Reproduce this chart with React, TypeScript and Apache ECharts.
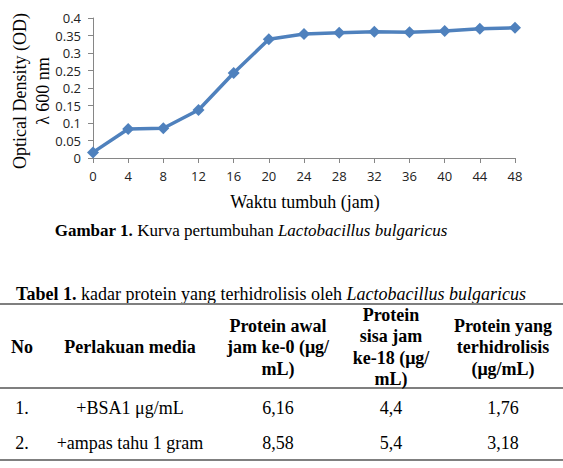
import React, { useEffect, useRef } from "react";
import * as echarts from "echarts";

const hours = [0, 4, 8, 12, 16, 20, 24, 28, 32, 36, 40, 44, 48];
const odValues = [0.016, 0.083, 0.085, 0.137, 0.243, 0.339, 0.354, 0.358, 0.361, 0.359, 0.363, 0.369, 0.372];

const xAxisTitle = "Waktu tumbuh (jam)";
const yAxisTitle = "Optical Density (OD)\nλ 600 nm";

const tableHeaders = [
  "No",
  "Perlakuan media",
  "Protein awal\njam ke-0 (μg/\nmL)",
  "Protein\nsisa jam\nke-18 (μg/\nmL)",
  "Protein yang\nterhidrolisis\n(μg/mL)",
];
const rowNo = ["1.", "2."];
const rowMedia = ["+BSA1 μg/mL", "+ampas tahu 1 gram"];
const proteinAwal = ["6,16", "8,58"];
const proteinSisa = ["4,4", "5,4"];
const proteinHidrolisis = ["1,76", "3,18"];

const SERIF = "'Liberation Serif', 'Times New Roman', serif";

export default function App() {
  const ref = useRef<HTMLDivElement>(null);
  useEffect(() => {
    if (!ref.current) return;
    const chart = echarts.init(ref.current, null, { renderer: "svg" });

    const colX = [22, 130, 278, 391, 503];
    const rowY = [408, 443];
    const cols = [rowNo, rowMedia, proteinAwal, proteinSisa, proteinHidrolisis];

    const graphics: any[] = [];
    // y axis title
    graphics.push({
      type: "text",
      x: 31,
      y: 91,
      rotation: Math.PI / 2,
      style: {
        text: yAxisTitle,
        font: `18px ${SERIF}`,
        fill: "#000",
        align: "center",
        verticalAlign: "middle",
        lineHeight: 23,
      },
    });
    // x axis title
    graphics.push({
      type: "text",
      x: 305,
      y: 202,
      style: {
        text: xAxisTitle,
        font: `18px ${SERIF}`,
        fill: "#000",
        align: "center",
        verticalAlign: "middle",
      },
    });
    // caption
    graphics.push({
      type: "text",
      x: 251,
      y: 230,
      style: {
        text: "{b|Gambar 1.} Kurva pertumbuhan {i|Lactobacillus bulgaricus}",
        font: `17px ${SERIF}`,
        fill: "#000",
        align: "center",
        verticalAlign: "middle",
        rich: {
          b: { fontWeight: "bold", fontSize: 17, fontFamily: SERIF },
          i: { fontStyle: "italic", fontSize: 17, fontFamily: SERIF },
        },
      },
    });
    // table caption
    graphics.push({
      type: "text",
      x: 271,
      y: 294,
      style: {
        text: "{b|Tabel 1.} kadar protein yang terhidrolisis oleh {i|Lactobacillus bulgaricus}",
        font: `18px ${SERIF}`,
        fill: "#000",
        align: "center",
        verticalAlign: "middle",
        rich: {
          b: { fontWeight: "bold", fontSize: 18, fontFamily: SERIF },
          i: { fontStyle: "italic", fontSize: 18, fontFamily: SERIF },
        },
      },
    });
    // table lines
    [304, 388, 460].forEach((y) => {
      graphics.push({
        type: "line",
        shape: { x1: 0, y1: y, x2: 563, y2: y },
        style: { stroke: "#7f7f7f", lineWidth: 2 },
      });
    });
    // headers
    tableHeaders.forEach((h, i) => {
      graphics.push({
        type: "text",
        x: colX[i],
        y: 347,
        style: {
          text: h,
          font: `bold 18px ${SERIF}`,
          fill: "#000",
          align: "center",
          verticalAlign: "middle",
          lineHeight: 21.5,
        },
      });
    });
    // rows
    cols.forEach((col, ci) => {
      col.forEach((v, ri) => {
        graphics.push({
          type: "text",
          x: colX[ci],
          y: rowY[ri],
          style: {
            text: v,
            font: `18px ${SERIF}`,
            fill: "#000",
            align: "center",
            verticalAlign: "middle",
          },
        });
      });
    });

    const axisLine = { show: true, lineStyle: { color: "#868686", width: 1 } };
    chart.setOption({
      animation: false,
      backgroundColor: "#fff",
      grid: { left: 93, right: 48, top: 18, bottom: 310, containLabel: false },
      xAxis: {
        type: "value",
        min: 0,
        max: 48,
        interval: 4,
        axisLine,
        axisTick: { show: true, length: 5, lineStyle: { color: "#868686" } },
        splitLine: { show: false },
        axisLabel: {
          margin: 11,
          fontFamily: "'Open Sans', sans-serif",
          fontSize: 13,
          color: "#222",
        },
      },
      yAxis: {
        type: "value",
        min: 0,
        max: 0.4,
        interval: 0.05,
        axisLine,
        axisTick: { show: true, length: 5, lineStyle: { color: "#868686" } },
        splitLine: { show: false },
        axisLabel: {
          margin: 12,
          fontFamily: "'Open Sans', sans-serif",
          fontSize: 13,
          color: "#222",
        },
      },
      series: [
        {
          type: "line",
          data: hours.map((h, i) => [h, odValues[i]]),
          symbol: "diamond",
          symbolSize: 12,
          showSymbol: true,
          lineStyle: { color: "#4f81bd", width: 3.5 },
          itemStyle: { color: "#4f81bd" },
        },
      ],
      graphic: graphics,
    });
    return () => chart.dispose();
  }, []);
  return (
    <div
      ref={ref}
      style={{ position: "fixed", left: 0, top: 0, width: 563, height: 468, background: "#fff" }}
    />
  );
}
